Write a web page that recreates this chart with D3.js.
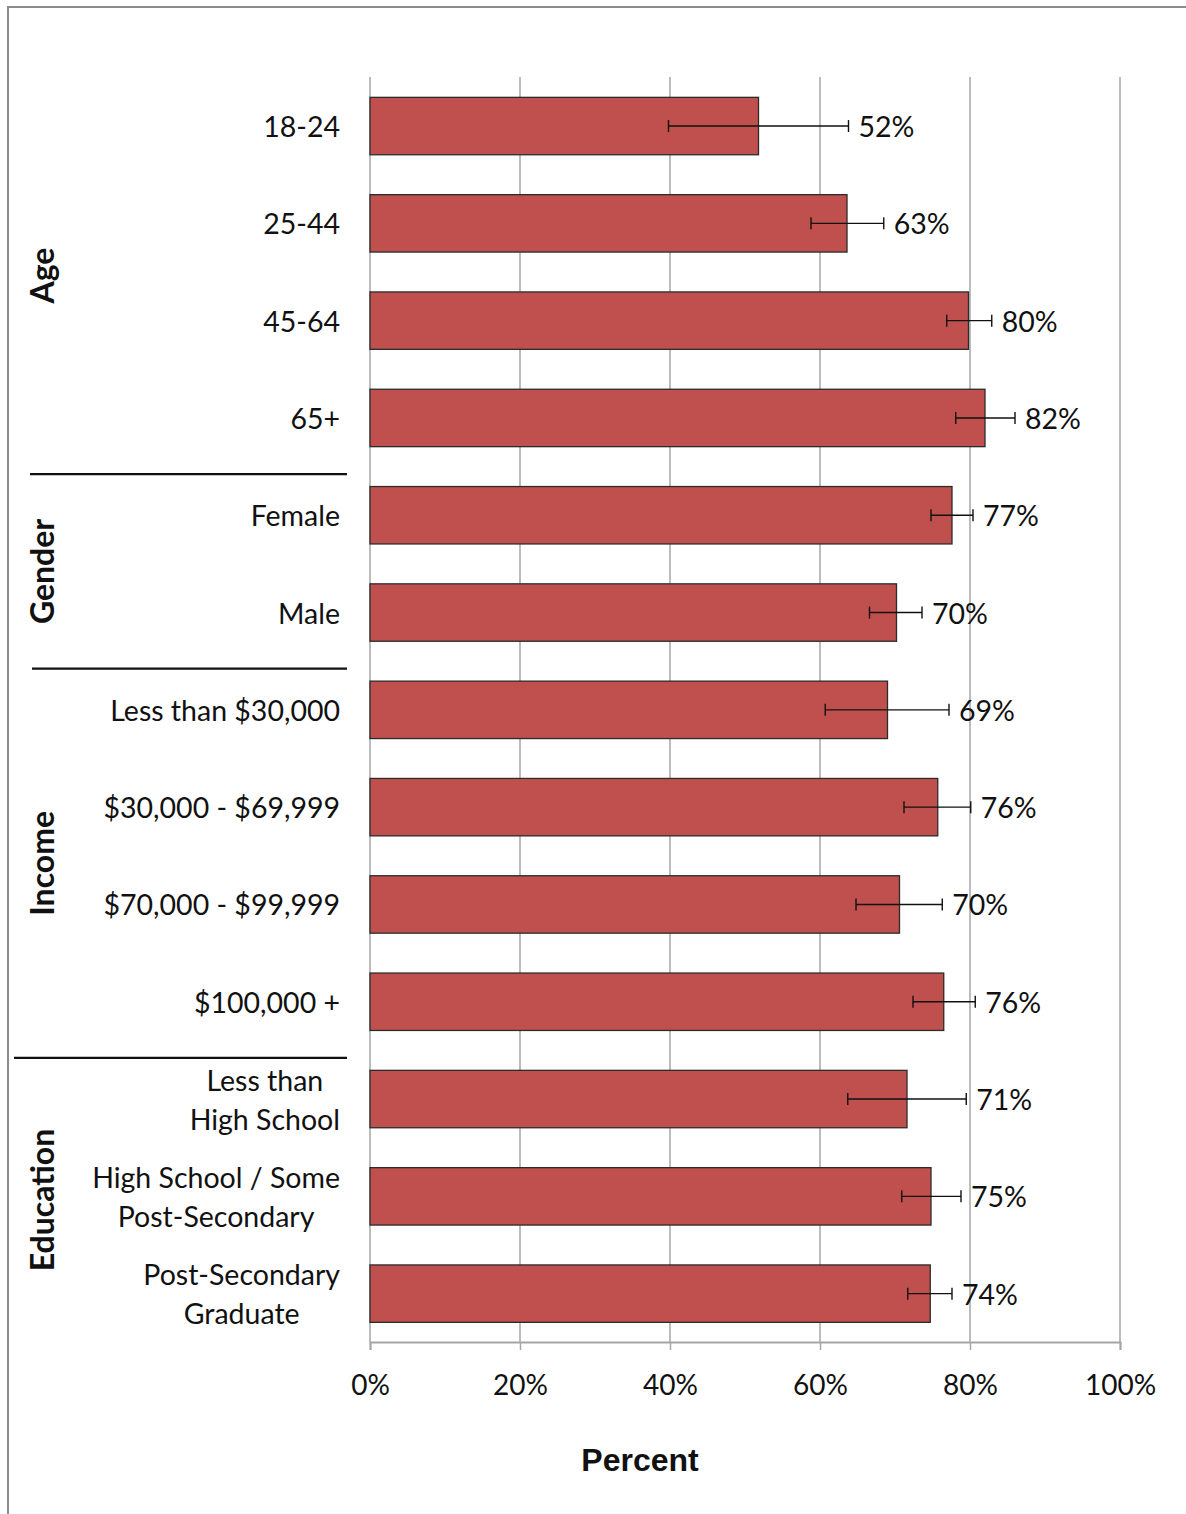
<!DOCTYPE html>
<html><head><meta charset="utf-8">
<script src="https://cdn.jsdelivr.net/npm/d3@7"></script>
<style>body{margin:0;background:#fff}svg{display:block}</style>
</head><body>
<script>
const categories = [["18-24"],["25-44"],["45-64"],["65+"],["Female"],["Male"],["Less than $30,000"],["$30,000 - $69,999"],["$70,000 - $99,999"],["$100,000 +"],["Less than","High School"],["High School / Some","Post-Secondary"],["Post-Secondary","Graduate"]];
const values = [51.8, 63.6, 79.8, 82.0, 77.6, 70.2, 69.0, 75.7, 70.6, 76.5, 71.6, 74.8, 74.7];
const valueLabels = ["52%","63%","80%","82%","77%","70%","69%","76%","70%","76%","71%","75%","74%"];
const errLow = [39.8, 58.8, 76.9, 78.1, 74.8, 66.6, 60.7, 71.2, 64.8, 72.4, 63.7, 70.9, 71.7];
const errHigh = [63.8, 68.5, 82.9, 86.0, 80.4, 73.6, 77.2, 80.1, 76.3, 80.7, 79.5, 78.8, 77.6];
const groups = ["Age","Gender","Income","Education"];
const groupStart = [0, 4, 6, 10];
const groupEnd = [4, 6, 10, 13];
const xTicks = [0, 20, 40, 60, 80, 100];
const xTitle = "Percent";

const W = 1186, H = 1514;
const svg = d3.select("body").append("svg").attr("width", W).attr("height", H);
const font = "Lato, 'Open Sans', sans-serif";
const fs = 28.5;

// frame
svg.append("path").attr("d", `M8,${H} L8,7 L${W},7`).attr("fill","none").attr("stroke","#8c8c8c").attr("stroke-width",2);

const x = d3.scaleLinear().domain([0,100]).range([370,1120]);
const y = d3.scaleBand().domain(d3.range(categories.length)).range([77.4, 1342.3]).paddingInner(0.41).paddingOuter(0.205);
const step = y.step();

// gridlines
svg.append("g").selectAll("line").data(xTicks).join("line")
  .attr("x1", d=>x(d)).attr("x2", d=>x(d)).attr("y1", 77).attr("y2", 1342)
  .attr("stroke", "#a6a6a6").attr("stroke-width", 1.5);

// x axis
const axis = svg.append("g").attr("transform","translate(0,1342)")
  .call(d3.axisBottom(x).tickValues(xTicks).tickFormat(d=>d+"%").tickSize(8).tickPadding(25));
axis.select(".domain").attr("stroke","#a6a6a6").attr("stroke-width",2);
axis.selectAll(".tick line").attr("stroke","#a6a6a6").attr("stroke-width",1.5);
axis.selectAll("text").attr("font-family", font).attr("font-size", 28).attr("fill","#111");

// bars
svg.append("g").selectAll("rect").data(values).join("rect")
  .attr("x", x(0)).attr("y", (d,i)=>y(i)).attr("width", d=>x(d)-x(0)).attr("height", y.bandwidth())
  .attr("fill", "#c0504d").attr("stroke", "#2b2b2b").attr("stroke-width", 1.3);

// error bars
const eb = svg.append("g").attr("stroke","#111").attr("stroke-width",1.4);
values.forEach((v,i)=>{
  const cy = y(i) + y.bandwidth()/2;
  eb.append("line").attr("x1", x(errLow[i])).attr("x2", x(errHigh[i])).attr("y1", cy).attr("y2", cy);
  eb.append("line").attr("x1", x(errLow[i])).attr("x2", x(errLow[i])).attr("y1", cy-6).attr("y2", cy+6);
  eb.append("line").attr("x1", x(errHigh[i])).attr("x2", x(errHigh[i])).attr("y1", cy-6).attr("y2", cy+6);
});

// value labels
svg.append("g").selectAll("text").data(valueLabels).join("text")
  .attr("x", (d,i)=>x(errHigh[i]) + 10).attr("y", (d,i)=>y(i)+y.bandwidth()/2)
  .attr("dominant-baseline","central").attr("font-family", font).attr("font-size", fs).attr("fill","#111")
  .text(d=>d);

// category labels
const cl = svg.append("g");
categories.forEach((lines,i)=>{
  const cy = y(i) + y.bandwidth()/2;
  if (lines.length === 1) {
    cl.append("text").attr("x", 340).attr("y", cy).attr("text-anchor","end").attr("dominant-baseline","central")
      .attr("font-family", font).attr("font-size", fs).attr("fill","#111").text(lines[0]);
  } else {
    const t = cl.append("text").attr("font-family", font).attr("font-size", fs).attr("fill","#111")
      .attr("text-anchor","middle").attr("dominant-baseline","central");
    const widths = lines.map(l=>{ const s = cl.append("text").attr("font-family", font).attr("font-size",fs).text(l); const w = s.node().getComputedTextLength(); s.remove(); return w; });
    const cx = 340 - d3.max(widths)/2;
    lines.forEach((l,k)=>{
      t.append("tspan").attr("x", cx).attr("y", cy + (k - (lines.length-1)/2) * 39).text(l);
    });
  }
});

// group separators and labels
const sepOffset = 7.5;
const sepX1 = [30, 32, 14];
groups.forEach((name,gi)=>{
  const top = gi === 0 ? 77 : y(groupStart[gi]) - (step - y.bandwidth())/2 + sepOffset;
  const bottom = gi === groups.length-1 ? 1342 : y(groupEnd[gi]) - (step - y.bandwidth())/2 + sepOffset;
  if (gi < groups.length-1) {
    svg.append("line").attr("x1", sepX1[gi]).attr("x2", 347).attr("y1", bottom).attr("y2", bottom)
      .attr("stroke","#111").attr("stroke-width",2.2);
  }
  const cy = (top + bottom)/2;
  svg.append("text").attr("transform", `translate(41,${cy}) rotate(-90)`)
    .attr("text-anchor","middle").attr("dominant-baseline","central")
    .attr("font-family", font).attr("font-weight","bold").attr("font-size", 32).attr("fill","#111").text(name);
});

// axis title
svg.append("text").attr("x", 640).attr("y", 1460).attr("text-anchor","middle").attr("dominant-baseline","central")
  .attr("font-family", "'Liberation Sans', Arial, sans-serif").attr("font-weight","bold").attr("font-size", 32).attr("fill","#111").text(xTitle);
</script>
</body></html>
